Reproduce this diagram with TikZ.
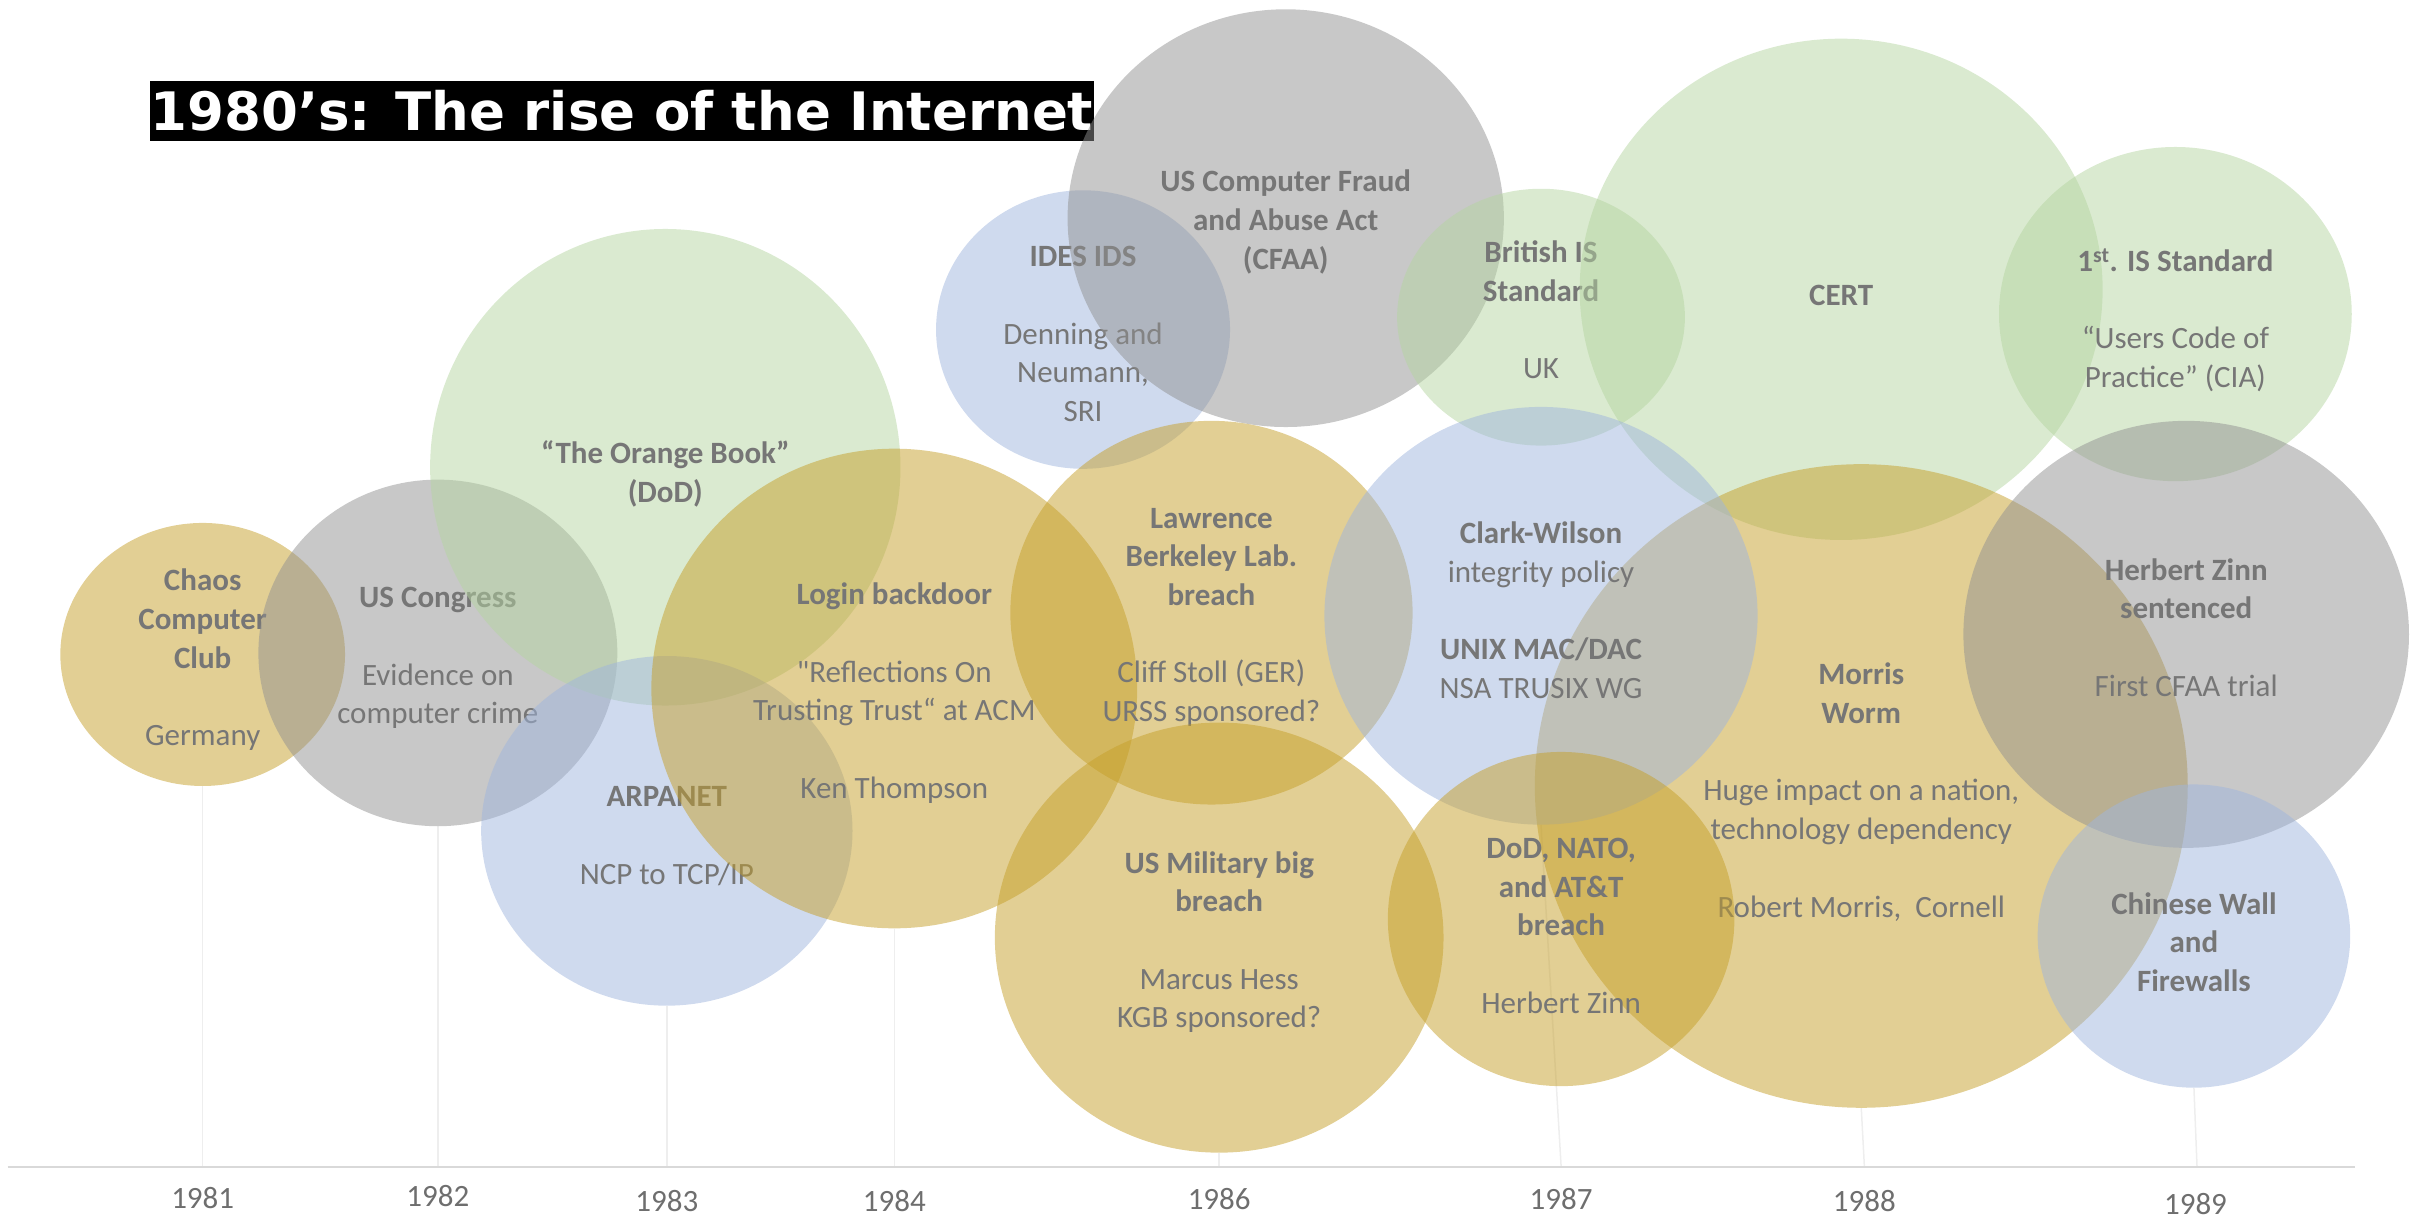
\documentclass[tikz,border=0pt]{standalone}
\usepackage{fontspec}
\setmainfont{Carlito}
\newfontfamily\plainfont{Carlito}
\newfontfamily\titlefont{DejaVu Sans}
\usetikzlibrary{shapes.geometric}
\pgfdeclarelayer{background}
\pgfsetlayers{background,main}
\definecolor{cgold}{RGB}{197,159,41}
\definecolor{cgray}{RGB}{145,145,145}
\definecolor{cblue}{RGB}{159,181,221}
\definecolor{cgreen}{RGB}{181,213,161}
\definecolor{txtgray}{RGB}{118,118,118}
\definecolor{yrgray}{RGB}{110,110,110}
\definecolor{axisgray}{RGB}{217,217,217}
\definecolor{dropgray}{RGB}{238,238,238}
\newcommand\bubble[6]{%
  \pgfmathsetmacro\bubW{2*#5*1.5472}%
  \pgfmathsetmacro\bubH{2*#6*1.5472}%
  \node[bub, fill=#2, minimum width=\bubW pt, minimum height=\bubH pt] (#1) at (#3,#4) {};}
\begin{document}
\begin{tikzpicture}[x=1.5472pt,y=-1.5472pt,
  bub/.style={ellipse, draw=none, inner sep=0pt, fill opacity=0.5},
  lbl/.style={align=center, text=txtgray, font=\fontsize{31}{38.7}\selectfont, inner sep=0pt, yshift=-3pt},
  yr/.style={text=yrgray, font=\fontsize{31}{38}\selectfont, inner sep=0pt},
  drop/.style={draw=dropgray, line width=1.5pt},
  axisline/.style={draw=axisgray, line width=2pt}]
\useasboundingbox (0,0) rectangle (1568,787);

% title
\node[fill=black, text=white, inner sep=0pt, minimum width=944pt, minimum height=60pt,
      font=\titlefont\bfseries\fontsize{53}{60}\selectfont] (title) at (402,71.5)
  {1980’s: The rise of the Internet};

% bubbles
\bubble{chaos}{cgold}{131}{423}{92}{85}
\node[lbl] (tchaos) at (131,424.5) {\textbf{Chaos}\\\textbf{Computer}\\\textbf{Club}\\[38.7pt]Germany};
\bubble{congress}{cgray}{283}{422}{116}{112}
\node[lbl] (tcongress) at (283,423.5) {\textbf{US Congress}\\[38.7pt]Evidence on\\computer crime};
\bubble{orange}{cgreen}{430}{302}{152}{154}
\node[lbl] (torange) at (430,304.5) {\textbf{“The Orange Book”}\\\textbf{(DoD)}};
\bubble{arpanet}{cblue}{431}{537}{120}{113}
\node[lbl] (tarpanet) at (431,538.5) {\textbf{ARPANET}\\[38.7pt]NCP to TCP/IP};
\bubble{login}{cgold}{578}{445}{157}{155}
\node[lbl] (tlogin) at (578,446) {\textbf{Login backdoor}\\[38.7pt]{\plainfont"}Reflections On\\Trusting Trust“ at ACM\\[38.7pt]Ken Thompson};
\bubble{ides}{cblue}{700}{213}{95}{90}
\node[lbl] (tides) at (700,214) {\textbf{IDES IDS}\\[38.7pt]Denning and\\Neumann,\\SRI};
\bubble{cfaa}{cgray}{831}{141}{141}{135}
\node[lbl] (tcfaa) at (831,141.5) {\textbf{US Computer Fraud}\\\textbf{and Abuse Act}\\\textbf{(CFAA)}};
\bubble{lawrence}{cgold}{783}{396}{130}{124}
\node[lbl] (tlawrence) at (783,397) {\textbf{Lawrence}\\\textbf{Berkeley Lab.}\\\textbf{breach}\\[38.7pt]Cliff Stoll (GER)\\URSS sponsored?};
\bubble{military}{cgold}{788}{606}{145}{139}
\node[lbl] (tmilitary) at (788,607) {\textbf{US Military big}\\\textbf{breach}\\[38.7pt]Marcus Hess\\KGB sponsored?};
\bubble{british}{cgreen}{996}{205}{93}{83}
\node[lbl] (tbritish) at (996,198.5) {\textbf{British IS}\\\textbf{Standard}\\[38.7pt]UK};
\bubble{cert}{cgreen}{1190}{187}{169}{162}
\node[lbl] (tcert) at (1190,189) {\textbf{CERT}};
\bubble{first}{cgreen}{1406}{203}{114}{108}
\node[lbl] (tfirst) at (1406,205) {\textbf{1\textsuperscript{st}. IS Standard}\\[38.7pt]“Users Code of\\Practice” (CIA)};
\bubble{morris}{cgold}{1203}{508}{211}{208}
\node[lbl] (tmorris) at (1203,510) {\textbf{Morris}\\\textbf{Worm}\\[38.7pt]Huge impact on a nation,\\technology dependency\\[38.7pt]Robert Morris,\ \ Cornell};
\bubble{clark}{cblue}{996}{398}{140}{135}
\node[lbl] (tclark) at (996,392.5) {\textbf{Clark-Wilson}\\integrity policy\\[38.7pt]\textbf{UNIX MAC/DAC}\\NSA TRUSIX WG};
\bubble{dod}{cgold}{1009}{594}{112}{108}
\node[lbl] (tdod) at (1009,596.5) {\textbf{DoD, NATO,}\\\textbf{and AT\&T}\\\textbf{breach}\\[38.7pt]Herbert Zinn};
\bubble{zinn}{cgray}{1413}{410}{144}{138}
\node[lbl] (tzinn) at (1413,403.5) {\textbf{Herbert Zinn}\\\textbf{sentenced}\\[38.7pt]First CFAA trial};
\bubble{chinese}{cblue}{1418}{605}{101}{98}
\node[lbl] (tchinese) at (1418,607) {\textbf{Chinese Wall}\\\textbf{and}\\\textbf{Firewalls}};

% axis
\coordinate (axL) at (5,754);
\coordinate (axR) at (1522,754);
\draw[axisline] (axL) -- (axR);
\coordinate (a81) at (131,754);
\coordinate (a82) at (283,754);
\coordinate (a83) at (431,754);
\coordinate (a84) at (578,754);
\coordinate (a86) at (788,754);
\coordinate (a87) at (1009,754);
\coordinate (a88) at (1205,754);
\coordinate (a89) at (1420,754);
\node[yr] (y81) at (131,774) {1981};
\node[yr] (y82) at (283,773) {1982};
\node[yr] (y83) at (431,776) {1983};
\node[yr] (y84) at (578,776) {1984};
\node[yr] (y86) at (788,775) {1986};
\node[yr] (y87) at (1009,775) {1987};
\node[yr] (y88) at (1205,776) {1988};
\node[yr] (y89) at (1419,778) {1989};

\begin{pgfonlayer}{background}
\draw[drop] (chaos.south) -- (a81);
\draw[drop] (congress.south) -- (a82);
\draw[drop] (arpanet.south) -- (a83);
\draw[drop] (login.south) -- (a84);
\draw[drop] (military.south) -- (a86);
\draw[drop] (clark.south) -- (a87);
\draw[drop] (morris.south) -- (a88);
\draw[drop] (chinese.south) -- (a89);
\end{pgfonlayer}
\end{tikzpicture}
\end{document}
